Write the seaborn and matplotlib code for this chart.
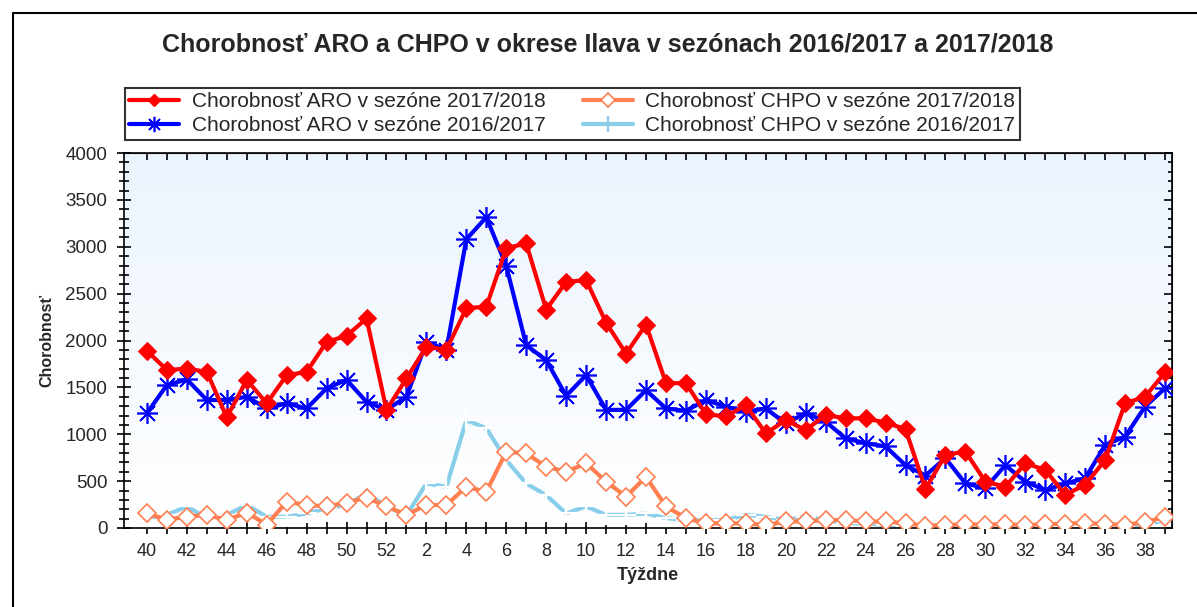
import numpy as np
import pandas as pd
import matplotlib
matplotlib.use('Agg')
import matplotlib.pyplot as plt
from matplotlib.lines import Line2D
from matplotlib.ticker import MultipleLocator, FixedLocator, NullFormatter
import seaborn as sns

# weeks of the season: 40..52, then 1..39
weeks = list(range(40, 53)) + list(range(1, 40))

aro_1718 = [1890, 1685, 1700, 1665, 1180, 1580, 1330, 1630, 1665, 1985, 2050, 2235, 1260,
            1595, 1935, 1900, 2345, 2360, 2985, 3035, 2330, 2625, 2645, 2190, 1860, 2170,
            1545, 1545, 1215, 1190, 1310, 1010, 1150, 1045, 1205, 1170, 1170, 1125, 1055,
            415, 780, 815, 495, 440, 690, 620, 355, 460, 725, 1330, 1400, 1660]
aro_1617 = [1225, 1525, 1585, 1365, 1365, 1400, 1275, 1330, 1275, 1490, 1580, 1345, 1260,
            1400, 1985, 1900, 3080, 3315, 2795, 1950, 1790, 1410, 1630, 1260, 1260, 1470,
            1275, 1250, 1365, 1295, 1240, 1275, 1115, 1225, 1135, 955, 905, 870, 670,
            560, 745, 475, 425, 670, 495, 405, 475, 530, 885, 975, 1295, 1490]
chpo_1718 = [155, 90, 120, 140, 85, 165, 35, 280, 245, 230, 270, 325, 230,
             140, 245, 245, 440, 385, 815, 795, 655, 600, 690, 495, 335, 545,
             230, 105, 50, 50, 50, 30, 70, 70, 85, 85, 70, 70, 50,
             25, 30, 40, 35, 40, 30, 40, 45, 55, 40, 35, 60, 120]
chpo_1617 = [85, 140, 230, 105, 140, 245, 120, 120, 155, 210, 245, 370, 230,
             135, 475, 440, 1150, 1065, 725, 475, 350, 155, 230, 140, 140, 155,
             105, 85, 85, 85, 140, 120, 85, 120, 85, 50, 50, 30, 20,
             15, 20, 20, 15, 20, 20, 15, 20, 20, 20, 25, 40, 80]

labels = ['Chorobnosť ARO v sezóne 2017/2018', 'Chorobnosť ARO v sezóne 2016/2017',
          'Chorobnosť CHPO v sezóne 2017/2018', 'Chorobnosť CHPO v sezóne 2016/2017']

sns.set_style('ticks')
plt.rcParams['font.family'] = ['Liberation Sans', 'DejaVu Sans']

fig = plt.figure(figsize=(11.97, 6.07), dpi=100)
ax = fig.add_axes([124 / 1197, 1 - 528 / 607, (1172 - 124) / 1197, (528 - 153) / 607])

# background gradient
grad = np.linspace(0, 1, 256).reshape(-1, 1)
cmap = matplotlib.colors.LinearSegmentedColormap.from_list('bg', ['#ebf4fd', '#ffffff'])
ax.imshow(grad, cmap=cmap, aspect='auto', extent=[0, 1, 0, 1],
          transform=ax.transAxes, zorder=0)

idx = np.arange(len(weeks))
df = pd.DataFrame({'idx': idx, 'aro_1718': aro_1718, 'aro_1617': aro_1617,
                   'chpo_1718': chpo_1718, 'chpo_1617': chpo_1617})

sns.lineplot(data=df, x='idx', y='chpo_1617', ax=ax, color='#87ceeb', lw=3,
             marker='+', markersize=14, mew=1.6, zorder=2)
sns.lineplot(data=df, x='idx', y='chpo_1718', ax=ax, color='#ff7f50', lw=3,
             marker='D', markersize=9, mfc='white', mec='#ff7f50', mew=1.2, zorder=3)
sns.lineplot(data=df, x='idx', y='aro_1617', ax=ax, color='#0000ff', lw=3,
             marker=(8, 2, 0), markersize=15, mew=1.2, mec='#0000ff', zorder=4)
sns.lineplot(data=df, x='idx', y='aro_1718', ax=ax, color='#ff0000', lw=3,
             marker='D', markersize=9.5, mfc='#ff0000', mec='#ff0000', zorder=5)

ax.set_xlim(-1.15, 51.35)
ax.set_ylim(0, 4000)
ax.xaxis.set_major_locator(FixedLocator(idx[::2]))
ax.set_xticklabels([str(w) for w in weeks[::2]])
ax.xaxis.set_minor_locator(FixedLocator(idx[1::2]))
ax.yaxis.set_major_locator(MultipleLocator(500))
ax.yaxis.set_minor_locator(MultipleLocator(100))
ax.tick_params(axis='both', which='both', direction='inout', color='black', width=1.2)
ax.tick_params(axis='x', which='both', length=9, labelsize=13, pad=6)
ax.tick_params(axis='y', which='major', length=10, labelsize=13.5, pad=7)
ax.tick_params(axis='y', which='minor', length=7)
for sp in ax.spines.values():
    sp.set_color('black')
    sp.set_linewidth(1.2)

# top and right ticks point inward only
top = ax.secondary_xaxis('top')
top.xaxis.set_major_locator(FixedLocator(idx))
top.xaxis.set_major_formatter(NullFormatter())
top.tick_params(direction='in', length=5, width=1.2, color='black')
right = ax.secondary_yaxis('right')
right.yaxis.set_major_locator(MultipleLocator(500))
right.yaxis.set_minor_locator(MultipleLocator(100))
right.yaxis.set_major_formatter(NullFormatter())
right.tick_params(which='major', direction='in', length=6, width=1.2, color='black')
right.tick_params(which='minor', direction='in', length=3, width=1.2, color='black')

ax.set_xlabel('Týždne', fontsize=13, fontweight='bold', labelpad=5)
ax.set_ylabel('Chorobnosť', fontsize=11.5, fontweight='bold', labelpad=8)

handles = [
    Line2D([], [], color='#ff0000', lw=3, marker='D', markersize=6),
    Line2D([], [], color='#0000ff', lw=3, marker=(8, 2, 0), markersize=11, mew=1.2),
    Line2D([], [], color='#ff7f50', lw=3, marker='D', markersize=7, mfc='white', mew=1.2),
    Line2D([], [], color='#87ceeb', lw=3, marker='+', markersize=11, mew=1.6),
]
leg = fig.legend(handles, labels, ncol=2, loc='upper left',
                 bbox_to_anchor=(125 / 1197, 1 - 88 / 607), borderaxespad=0, fontsize=15,
                 frameon=True, fancybox=False, edgecolor='black', handlelength=2.4,
                 columnspacing=1.8, borderpad=0.2, labelspacing=0.25, handletextpad=0.6)
leg.get_frame().set_linewidth(1.5)

fig.text(0.508, 1 - 45 / 607, 'Chorobnosť ARO a CHPO v okrese Ilava v sezónach 2016/2017 a 2017/2018',
         ha='center', va='center', fontsize=18, fontweight='bold')

# outer frame
fig.add_artist(Line2D([13 / 1197, 13 / 1197], [0, 1 - 13 / 607], color='black', lw=1.5,
                      transform=fig.transFigure))
fig.add_artist(Line2D([13 / 1197, 1], [1 - 13 / 607, 1 - 13 / 607], color='black', lw=1.5,
                      transform=fig.transFigure))

fig.savefig('out.png', dpi=100)
